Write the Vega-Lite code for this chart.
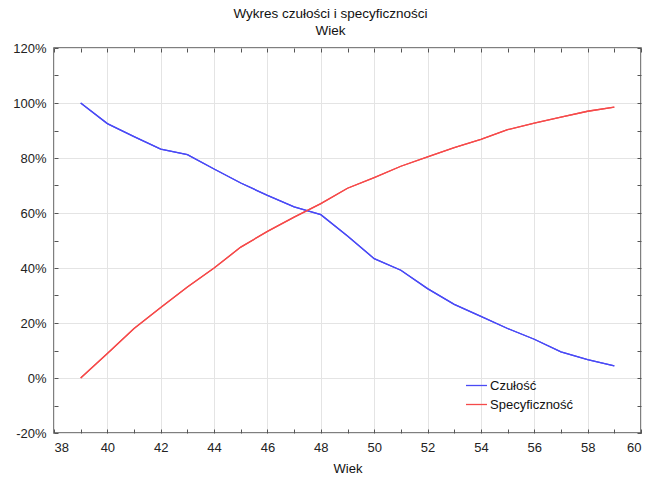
{
  "$schema": "https://vega.github.io/schema/vega-lite/v6.json",
  "width": 587,
  "height": 385,
  "autosize": {"type": "none"},
  "padding": {"left": 54, "top": 48, "right": 8, "bottom": 44},
  "background": "white",
  "title": {
    "text": "Wykres czułości i specyficzności",
    "subtitle": "Wiek",
    "font": "Liberation Sans",
    "subtitleFont": "Liberation Sans",
    "fontSize": 13.5,
    "subtitleFontSize": 13.5,
    "fontWeight": "normal",
    "color": "#111",
    "subtitleColor": "#111",
    "anchor": "middle",
    "offset": 5,
    "subtitlePadding": 3,
    "dx": -17
  },
  "config": {
    "view": {"stroke": "#555", "strokeWidth": 1.5},
    "axis": {
      "labelFont": "Liberation Sans",
      "labelFontSize": 13,
      "labelColor": "#222",
      "titleFont": "Liberation Sans",
      "titleFontSize": 13,
      "titleFontWeight": "normal",
      "titleColor": "#111",
      "tickColor": "#555",
      "tickSize": -4,
      "tickWidth": 1,
      "domain": false,
      "gridColor": "#e4e4e4",
      "gridWidth": 1
    }
  },
  "data": {
    "values": [
      {"wiek": 39, "seria": "Czułość", "wartosc": 100},
      {"wiek": 40, "seria": "Czułość", "wartosc": 92.5},
      {"wiek": 41, "seria": "Czułość", "wartosc": 87.8},
      {"wiek": 42, "seria": "Czułość", "wartosc": 83.2},
      {"wiek": 43, "seria": "Czułość", "wartosc": 81.2},
      {"wiek": 44, "seria": "Czułość", "wartosc": 76.0},
      {"wiek": 45, "seria": "Czułość", "wartosc": 70.9},
      {"wiek": 46, "seria": "Czułość", "wartosc": 66.4},
      {"wiek": 47, "seria": "Czułość", "wartosc": 62.2},
      {"wiek": 48, "seria": "Czułość", "wartosc": 59.4},
      {"wiek": 49, "seria": "Czułość", "wartosc": 51.6},
      {"wiek": 50, "seria": "Czułość", "wartosc": 43.4},
      {"wiek": 51, "seria": "Czułość", "wartosc": 39.2},
      {"wiek": 52, "seria": "Czułość", "wartosc": 32.5},
      {"wiek": 53, "seria": "Czułość", "wartosc": 26.8},
      {"wiek": 54, "seria": "Czułość", "wartosc": 22.4},
      {"wiek": 55, "seria": "Czułość", "wartosc": 18.0},
      {"wiek": 56, "seria": "Czułość", "wartosc": 14.1},
      {"wiek": 57, "seria": "Czułość", "wartosc": 9.5},
      {"wiek": 58, "seria": "Czułość", "wartosc": 6.7},
      {"wiek": 59, "seria": "Czułość", "wartosc": 4.4},
      {"wiek": 39, "seria": "Specyficzność", "wartosc": 0},
      {"wiek": 40, "seria": "Specyficzność", "wartosc": 8.9},
      {"wiek": 41, "seria": "Specyficzność", "wartosc": 18.0},
      {"wiek": 42, "seria": "Specyficzność", "wartosc": 25.6},
      {"wiek": 43, "seria": "Specyficzność", "wartosc": 33.1},
      {"wiek": 44, "seria": "Specyficzność", "wartosc": 40.0},
      {"wiek": 45, "seria": "Specyficzność", "wartosc": 47.6},
      {"wiek": 46, "seria": "Specyficzność", "wartosc": 53.3},
      {"wiek": 47, "seria": "Specyficzność", "wartosc": 58.5},
      {"wiek": 48, "seria": "Specyficzność", "wartosc": 63.4},
      {"wiek": 49, "seria": "Specyficzność", "wartosc": 69.0},
      {"wiek": 50, "seria": "Specyficzność", "wartosc": 72.9},
      {"wiek": 51, "seria": "Specyficzność", "wartosc": 77.0},
      {"wiek": 52, "seria": "Specyficzność", "wartosc": 80.4},
      {"wiek": 53, "seria": "Specyficzność", "wartosc": 83.8},
      {"wiek": 54, "seria": "Specyficzność", "wartosc": 86.8},
      {"wiek": 55, "seria": "Specyficzność", "wartosc": 90.3},
      {"wiek": 56, "seria": "Specyficzność", "wartosc": 92.7},
      {"wiek": 57, "seria": "Specyficzność", "wartosc": 94.9},
      {"wiek": 58, "seria": "Specyficzność", "wartosc": 97.0},
      {"wiek": 59, "seria": "Specyficzność", "wartosc": 98.5}
    ]
  },
  "layer": [
    {
      "mark": {"type": "line", "strokeWidth": 1.3},
      "encoding": {
        "x": {
          "field": "wiek",
          "type": "quantitative",
          "scale": {"domain": [38, 60], "nice": false, "zero": false},
          "axis": {
            "orient": "bottom",
            "title": "Wiek",
            "values": [38,39,40,41,42,43,44,45,46,47,48,49,50,51,52,53,54,55,56,57,58,59,60],
            "labelExpr": "datum.value % 2 === 0 ? datum.label : ''",
            "gridOpacity": {"condition": {"test": "datum.value % 2 !== 0", "value": 0}, "value": 1},
            "labelPadding": 12,
            "titlePadding": 8
          }
        },
        "y": {
          "field": "wartosc",
          "type": "quantitative",
          "scale": {"domain": [-20, 120], "nice": false, "zero": false},
          "axis": {
            "orient": "left",
            "title": null,
            "values": [-20,-10,0,10,20,30,40,50,60,70,80,90,100,110,120],
            "labelExpr": "datum.value % 20 === 0 ? datum.value + '%' : ''",
            "gridOpacity": {"condition": {"test": "datum.value % 20 !== 0", "value": 0}, "value": 1},
            "labelPadding": 12
          }
        },
        "color": {
          "field": "seria",
          "type": "nominal",
          "scale": {"domain": ["Czułość", "Specyficzność"], "range": ["#4a4af5", "#f54a4a"]},
          "legend": {
            "title": null,
            "orient": "none",
            "legendX": 411,
            "legendY": 326,
            "symbolType": "stroke",
            "symbolSize": 440,
            "symbolStrokeWidth": 1.3,
            "labelFont": "Liberation Sans",
            "labelFontSize": 13,
            "labelColor": "#111",
            "labelOffset": 2,
            "rowPadding": -4,
            "padding": 0
          }
        }
      }
    },
    {
      "mark": {"type": "line", "strokeWidth": 1.3},
      "encoding": {
        "x": {
          "field": "wiek",
          "type": "quantitative",
          "scale": {"domain": [38, 60], "nice": false, "zero": false},
          "axis": {
            "orient": "top",
            "title": null,
            "labels": false,
            "grid": false,
            "values": [38,39,40,41,42,43,44,45,46,47,48,49,50,51,52,53,54,55,56,57,58,59,60]
          }
        },
        "y": {
          "field": "wartosc",
          "type": "quantitative",
          "scale": {"domain": [-20, 120], "nice": false, "zero": false},
          "axis": {
            "orient": "right",
            "title": null,
            "labels": false,
            "grid": false,
            "values": [-20,-10,0,10,20,30,40,50,60,70,80,90,100,110,120]
          }
        },
        "color": {
          "field": "seria",
          "type": "nominal",
          "scale": {"domain": ["Czułość", "Specyficzność"], "range": ["#4a4af5", "#f54a4a"]},
          "legend": null
        }
      }
    }
  ],
  "resolve": {"axis": {"x": "independent", "y": "independent"}}
}
